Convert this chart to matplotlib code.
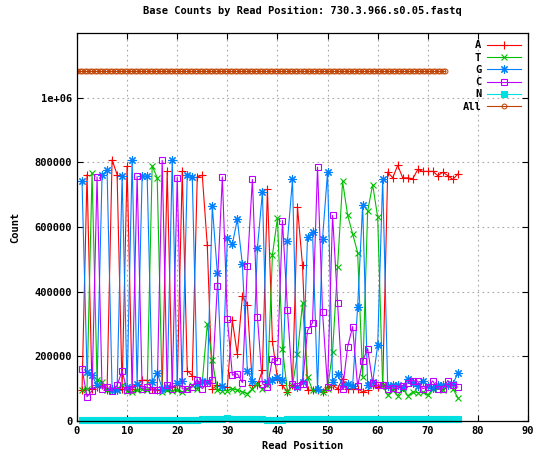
import numpy as np
import matplotlib
matplotlib.use("Agg")
import matplotlib.pyplot as plt

# read positions 1..76, counts in thousands
positions = list(range(1, 77))

count_A = [95, 762, 100, 105, 110, 95, 808, 762, 100, 788,
           100, 110, 126, 126, 100, 95, 100, 772, 105, 110,
           772, 156, 140, 755, 760, 543, 100, 110, 108, 105,
           311, 206, 386, 360, 110, 110, 157, 716, 246, 130,
           110, 90, 110, 661, 482, 95, 95, 95, 90, 105,
           110, 100, 131, 100, 100, 100, 90, 95, 110, 105,
           110, 770, 752, 791, 752, 752, 749, 778, 772, 772,
           772, 759, 769, 759, 747, 764]

count_T = [95, 100, 767, 128, 120, 95, 92, 100, 110, 92,
           90, 95, 100, 95, 789, 753, 90, 95, 92, 95,
           90, 100, 110, 100, 120, 300, 188, 95, 94, 94,
           100, 95, 90, 85, 100, 113, 100, 110, 514, 627,
           224, 89, 110, 206, 364, 136, 96, 100, 90, 100,
           213, 477, 741, 637, 579, 521, 137, 649, 731, 631,
           110, 80, 95, 78, 100, 78, 90, 88, 90, 80,
           100, 105, 95, 110, 100, 72]

count_G = [741, 152, 142, 110, 760, 775, 100, 95, 757, 105,
           808, 115, 757, 757, 120, 150, 100, 105, 806, 118,
           125, 762, 755, 115, 125, 120, 664, 459, 108, 565,
           547, 624, 485, 155, 123, 534, 708, 120, 127, 137,
           126, 557, 747, 105, 120, 569, 585, 100, 564, 770,
           120, 145, 110, 114, 109, 352, 668, 112, 120, 234,
           749, 108, 110, 112, 105, 130, 118, 108, 125, 108,
           102, 110, 112, 110, 115, 147]

count_C = [162, 75, 93, 755, 100, 105, 92, 110, 155, 95,
           98, 757, 100, 105, 96, 95, 806, 110, 100, 753,
           100, 98, 105, 128, 100, 117, 128, 416, 755, 316,
           142, 146, 119, 480, 747, 323, 115, 105, 193, 186,
           620, 344, 113, 108, 114, 280, 304, 785, 336, 105,
           636, 365, 98, 229, 292, 107, 185, 224, 119, 110,
           111, 100, 102, 100, 108, 118, 125, 123, 100, 105,
           124, 98, 100, 125, 110, 105]

count_N = [2, 2, 2, 2, 2, 2, 2, 2, 2, 2,
           2, 2, 2, 2, 2, 2, 2, 2, 2, 2,
           2, 2, 2, 2, 6, 7, 5, 7, 6, 8,
           6, 7, 5, 7, 6, 7, 5, 3, 3, 3,
           3, 7, 7, 7, 7, 7, 7, 7, 7, 7,
           7, 7, 7, 7, 7, 7, 7, 7, 7, 7,
           7, 7, 7, 7, 7, 7, 7, 7, 7, 7,
           7, 7, 7, 7, 7, 7]

# the "All" trace has twice as many points
all_pos = list(np.arange(0, 74, 0.5))
count_all = [1083] * len(all_pos)

star = (8, 2, 0)  # gnuplot-style asterisk
series = [
    ("A", count_A, "#ff0000", "+", 6, {}),
    ("T", count_T, "#00c000", "x", 5, {}),
    ("G", count_G, "#0080ff", star, 6, {}),
    ("C", count_C, "#c000ff", "s", 5, {"markerfacecolor": "none"}),
    ("N", count_N, "#00e0e0", "s", 5, {}),
]

mono = "DejaVu Sans Mono"
plt.rcParams["font.family"] = mono
plt.rcParams["font.weight"] = "bold"
plt.rcParams["font.size"] = 7.5

fig = plt.figure(figsize=(5.37, 4.61), dpi=100)
ax = fig.add_axes([77 / 537, 1 - 421 / 461, (528 - 77) / 537, (421 - 33) / 461])

for name, vals, col, mk, ms, extra in series:
    ax.plot(positions, np.array(vals) * 1000, color=col, lw=0.8, marker=mk,
            markersize=ms, markeredgewidth=0.8, label=name, clip_on=False, **extra)

ax.plot(all_pos, np.array(count_all) * 1000, color="#c04000", lw=0.8, marker="o",
        markersize=3.5, markerfacecolor="none", markeredgewidth=0.7, label="All")

ax.set_xlim(0, 90)
ax.set_ylim(0, 1.2e6)
ax.set_xticks(range(0, 91, 10))
yt = [0, 200000, 400000, 600000, 800000, 1000000]
ax.set_yticks(yt)
ax.set_yticklabels(["0", "200000", "400000", "600000", "800000", "1e+06"])
ax.tick_params(direction="in", top=True, right=True, length=4, width=0.8)
for lbl in ax.get_xticklabels() + ax.get_yticklabels():
    lbl.set_fontweight("bold")
ax.grid(True, color="#a8a8a8", linestyle=(0, (1.5, 3)), linewidth=0.8)
for s in ax.spines.values():
    s.set_linewidth(0.9)

ax.set_title("Base Counts by Read Position: 730.3.966.s0.05.fastq", pad=14,
             fontweight="bold", fontsize=7.5)
ax.set_xlabel("Read Position", labelpad=4, fontweight="bold")
ax.set_ylabel("Count", labelpad=10, fontweight="bold")

leg = ax.legend(loc="upper right", markerfirst=False, frameon=False, handlelength=3.2,
                labelspacing=0.22, borderaxespad=0.3, handletextpad=0.6)
for t in leg.get_texts():
    t.set_fontweight("bold")

fig.savefig("out.png", dpi=100)
